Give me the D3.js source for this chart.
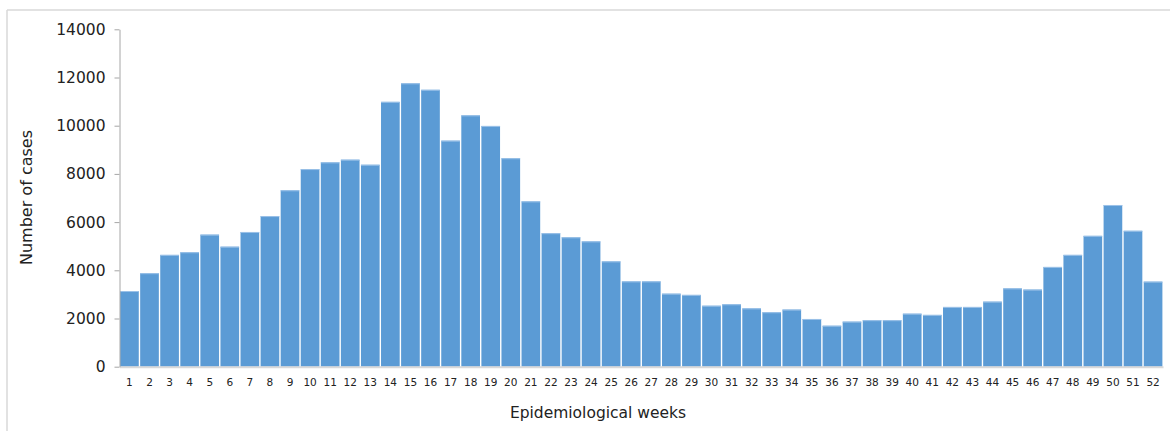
<!DOCTYPE html>
<html>
<head>
<meta charset="utf-8">
<script src="https://cdn.jsdelivr.net/npm/d3@7"></script>
<style>
  body { margin: 0; background: #fff; }
  text { font-family: 'DejaVu Sans', Verdana, sans-serif; fill: #222; }
</style>
</head>
<body>
<div id="chart"></div>
<script>
// weekly counts
let weeks = d3.range(1, 53).map(String)
let cases = [
  3140, 3880, 4640, 4750, 5480, 4980, 5590, 6250, 7320, 8200,
  8480, 8590, 8380, 10990, 11760, 11490, 9380, 10430, 9990, 8650,
  6860, 5540, 5370, 5200, 4370, 3540, 3540, 3030, 2980, 2530,
  2590, 2420, 2260, 2370, 1980, 1700, 1870, 1930, 1930, 2200,
  2150, 2480, 2480, 2700, 3250, 3200, 4140, 4640, 5430, 6710,
  5640, 3530
]
let yTicks = [0, 2000, 4000, 6000, 8000, 10000, 12000, 14000]

let W = 1170
let H = 431
let margin = { top: 29.3, left: 119.5, right: 7, bottom: 64.3 }
let width = W - margin.left - margin.right
let height = H - margin.top - margin.bottom

let svg = d3
  .select('#chart')
  .append('svg')
  .attr('width', W)
  .attr('height', H)

// light frame (top and left only visible)
svg.append('line')
  .attr('x1', 7).attr('x2', W).attr('y1', 10).attr('y2', 10)
  .attr('stroke', '#d9d9d9').attr('stroke-width', 1.5)
svg.append('line')
  .attr('x1', 7).attr('x2', 7).attr('y1', 10).attr('y2', H)
  .attr('stroke', '#d9d9d9').attr('stroke-width', 1.5)

let g = svg.append('g')
  .attr('transform', `translate(${margin.left},${margin.top})`)

let x = d3.scaleBand()
  .domain(weeks)
  .range([0, width])
  .paddingInner(0.07)
  .paddingOuter(0.03)

let y = d3.scaleLinear()
  .domain([0, 14000])
  .range([height, 0])

// bars
g.selectAll('.bar')
  .data(cases)
  .enter()
  .append('rect')
  .attr('class', 'bar')
  .attr('x', (d, i) => x(weeks[i]))
  .attr('width', x.bandwidth())
  .attr('y', d => y(d))
  .attr('height', d => height - y(d))
  .attr('fill', '#5b9bd5')

// bar top highlight
g.selectAll('.bar-top')
  .data(cases)
  .enter()
  .append('line')
  .attr('x1', (d, i) => x(weeks[i]))
  .attr('x2', (d, i) => x(weeks[i]) + x.bandwidth())
  .attr('y1', d => y(d) + 0.5)
  .attr('y2', d => y(d) + 0.5)
  .attr('stroke', '#9cc2e8')
  .attr('stroke-width', 1)

// x axis
let xAxis = g.append('g')
  .attr('transform', `translate(0,${height})`)
  .call(d3.axisBottom(x).tickSize(0).tickPadding(12))
xAxis.select('.domain').attr('stroke', '#d9d9d9').attr('stroke-width', 2)
xAxis.selectAll('text')
  .attr('font-size', 10.5)
  .attr('font-family', "'DejaVu Sans', Verdana, sans-serif")
  .attr('fill', '#222')

// y axis
let yAxis = g.append('g')
  .call(
    d3.axisLeft(y)
      .tickValues(yTicks)
      .tickFormat(d3.format('d'))
      .tickSize(5)
      .tickPadding(9)
      .tickSizeOuter(0)
  )
yAxis.select('.domain').attr('stroke', '#a6a6a6')
yAxis.selectAll('.tick line').attr('stroke', '#a6a6a6')
yAxis.selectAll('text')
  .attr('font-size', 15.5)
  .attr('font-family', "'DejaVu Sans', Verdana, sans-serif")
  .attr('fill', '#222')

// titles
svg.append('text')
  .attr('transform', `translate(32,${margin.top + height / 2 - 0.5}) rotate(-90)`)
  .attr('text-anchor', 'middle')
  .attr('font-size', 16)
  .text('Number of cases')

svg.append('text')
  .attr('x', 598)
  .attr('y', 418)
  .attr('text-anchor', 'middle')
  .attr('font-size', 15.5)
  .text('Epidemiological weeks')
</script>
</body>
</html>
